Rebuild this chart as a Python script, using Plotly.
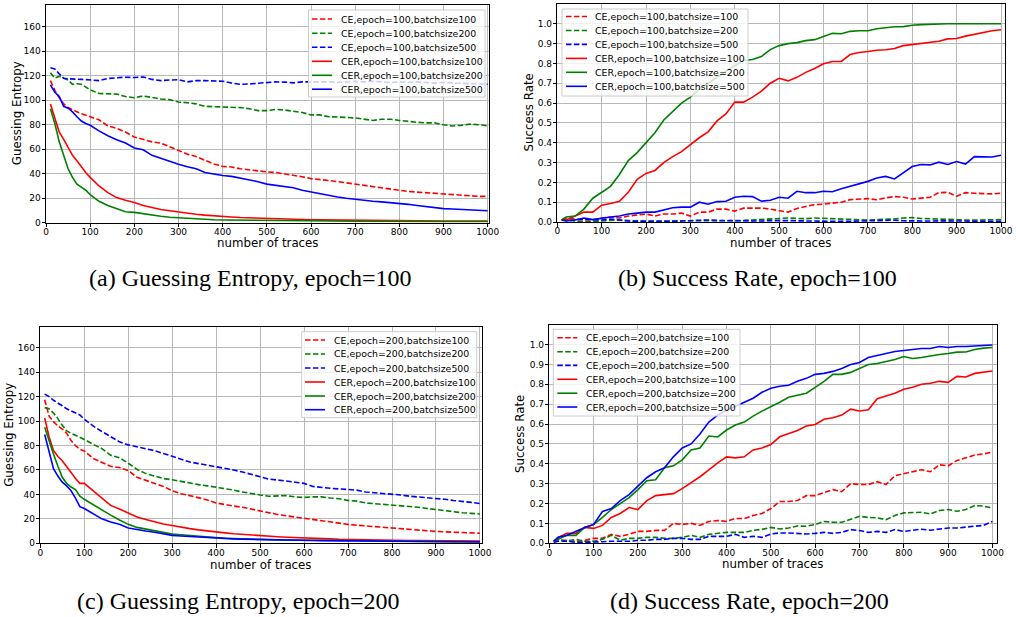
import plotly.graph_objects as go

# ---------------- data ----------------
GE_X = [10, 20, 30, 40, 50, 60, 70, 80, 90, 100] + list(range(120, 1001, 20))
SR_X = [10] + list(range(20, 1001, 20))

X_TICKS = list(range(0, 1001, 100))
GE_TICKS = list(range(0, 161, 20))
SR_TICKS = [i / 10 for i in range(0, 11)]
SR_TICKTEXT = ["%.1f" % v for v in SR_TICKS]

# (a) Guessing entropy, epoch=100
GE_A_CE100 = [116, 108, 102, 97, 94, 92, 90.5, 89, 88, 86.5,
              84, 79, 77, 74, 70, 68, 66, 65, 62, 59, 56, 54, 51, 48, 46, 45.5, 44, 43, 42.5, 41.5,
              41, 40, 38.5, 37.5, 36,
              35.5, 34.5, 33.5, 32.5, 31.5, 30.5, 29, 28.5, 27.5, 26.5, 25.5, 25, 24.5, 24, 23.5, 23, 22, 21.8, 21.5, 21.5]
GE_A_CE200 = [122.5, 118, 119.5, 118, 116.5, 113, 113.5, 113, 111, 108.5,
              105.5, 105, 105, 103, 102, 103.5, 102, 101, 100.5, 98.5, 98, 97, 95, 94.7, 95, 94.3, 94, 93, 91.5, 91.5,
              92.5, 92, 91, 90, 88,
              88, 86.5, 86.5, 86, 85.5, 84.5, 83.5, 84.5, 84.5, 83.5, 82.5, 82, 81.5, 81.5, 80, 79, 79.5, 80.5, 80, 79]
GE_A_CE500 = [126.5, 125.5, 121.5, 118, 117.5, 117.5, 117, 117, 116.8, 116.5,
              116, 117.8, 118.2, 118.8, 118.5, 119, 117, 116, 116.5, 116.8, 115, 116, 116, 115.5, 115.5, 114, 113, 113.3, 114, 114.5,
              115, 114.8, 114.2, 115, 115,
              115.5, 115, 114.5, 115, 115.5, 115, 115.5, 115, 114.5, 115, 114.5, 115, 114.5, 114, 114.5, 114, 114, 113.5, 113.5, 113]
GE_A_CER100 = [97, 86, 74, 68, 62, 55, 50.5, 45.5, 41, 37,
               30, 24.5, 20.5, 18.3, 16.5, 14, 12.2, 10.8, 9.8, 8.8, 7.5, 6.9, 6.2, 5.5, 5, 4.6, 4.2, 3.9, 3.6, 3.4,
               3.2, 3, 2.8, 2.6, 2.4,
               2.3, 2.2, 2.1, 2.0, 1.9, 1.85, 1.8, 1.75, 1.7, 1.65, 1.6, 1.55, 1.5, 1.45, 1.4, 1.4, 1.35, 1.3, 1.3, 1.25]
GE_A_CER200 = [93, 81, 66, 54, 44, 37, 31.5, 29, 26.5, 23,
               17.5, 14, 11.5, 9, 8.4, 7.2, 6.2, 5.2, 4.5, 4, 3.6, 3.2, 2.8, 2.4, 2.2, 2.1, 1.9, 1.8, 1.7, 1.6,
               1.5, 1.5, 1.4, 1.4, 1.3,
               1.3, 1.3, 1.2, 1.2, 1.2, 1.2, 1.1, 1.1, 1.1, 1.1, 1.1, 1.1, 1.0, 1.0, 1.0, 1.0, 1.0, 1.0, 1.0, 1.0]
GE_A_CER500 = [112.5, 106.5, 103, 95, 93.5, 90.5, 86.5, 83, 81, 79.5,
               75, 71, 67.8, 65, 61, 59.5, 55, 52.5, 50.5, 47.8, 45.7, 44, 41, 39.5, 38.5, 37.8, 36.5, 35, 33.5, 31.5,
               30.3, 29.5, 28.5, 26.5, 25,
               24, 22.5, 21, 20, 19, 18, 17.5, 17, 16.5, 16, 15, 14, 13, 12.5, 11.5, 11.2, 10.8, 10.5, 10, 9.7]

# (b) Success rate, epoch=100
SR_B_CE100 = [0.01, 0.02, 0.015, 0.01, 0.01, 0.02, 0.025, 0.02, 0.03, 0.035, 0.04,
              0.03, 0.04, 0.04, 0.045, 0.03, 0.05, 0.05, 0.065, 0.065, 0.055,
              0.07, 0.07, 0.07, 0.065, 0.058, 0.05, 0.068, 0.078, 0.088, 0.09,
              0.095, 0.1, 0.113, 0.115, 0.118, 0.112, 0.122, 0.128, 0.125, 0.116,
              0.122, 0.125, 0.148, 0.15, 0.13, 0.148, 0.145, 0.143, 0.142, 0.145]
SR_B_CE200 = [0.01, 0.01, 0.005, 0.0, 0.003, 0.005, 0.008, 0.01, 0.007, 0.005, 0.005,
              0.005, 0.004, 0.005, 0.006, 0.008, 0.007, 0.006, 0.005, 0.005, 0.006,
              0.008, 0.01, 0.012, 0.013, 0.015, 0.02, 0.018, 0.017, 0.02, 0.018,
              0.017, 0.014, 0.012, 0.01, 0.01, 0.012, 0.013, 0.015, 0.02, 0.022,
              0.018, 0.016, 0.013, 0.012, 0.01, 0.01, 0.01, 0.01, 0.013, 0.012]
SR_B_CE500 = [0.01, 0.008, 0.01, 0.015, 0.012, 0.01, 0.015, 0.01, 0.005, 0.004, 0.003,
              0.003, 0.004, 0.004, 0.005, 0.007, 0.01, 0.01, 0.008, 0.007, 0.005,
              0.004, 0.004, 0.005, 0.007, 0.008, 0.007, 0.006, 0.005, 0.004, 0.003,
              0.003, 0.003, 0.004, 0.005, 0.006, 0.008, 0.01, 0.009, 0.006, 0.005,
              0.004, 0.005, 0.006, 0.006, 0.005, 0.005, 0.004, 0.004, 0.003, 0.003]
SR_B_CER100 = [0.01, 0.01, 0.03, 0.05, 0.05, 0.085, 0.093, 0.105, 0.15, 0.215, 0.245,
               0.26, 0.30, 0.33, 0.355, 0.39, 0.425, 0.455, 0.51, 0.545, 0.605,
               0.605, 0.63, 0.66, 0.70, 0.725, 0.712, 0.73, 0.755, 0.775, 0.798,
               0.81, 0.81, 0.845, 0.855, 0.86, 0.867, 0.869, 0.875, 0.89, 0.895,
               0.902, 0.906, 0.912, 0.924, 0.926, 0.938, 0.948, 0.955, 0.965, 0.97]
SR_B_CER200 = [0.01, 0.025, 0.03, 0.065, 0.12, 0.15, 0.18, 0.24, 0.31, 0.35, 0.40,
               0.45, 0.515, 0.56, 0.60, 0.63, 0.67, 0.70, 0.73, 0.76, 0.79,
               0.815, 0.82, 0.835, 0.87, 0.89, 0.90, 0.905, 0.915, 0.92, 0.935,
               0.952, 0.95, 0.962, 0.965, 0.965, 0.975, 0.98, 0.985, 0.986, 0.993,
               0.996, 0.998, 1.0, 1.0, 1.0, 1.0, 1.0, 1.0, 1.0, 1.0]
SR_B_CER500 = [0.01, 0.005, 0.01, 0.02, 0.012, 0.02, 0.025, 0.03, 0.04, 0.045, 0.05,
               0.05, 0.06, 0.072, 0.075, 0.075, 0.1, 0.09, 0.103, 0.105, 0.125,
               0.13, 0.128, 0.105, 0.11, 0.125, 0.12, 0.155, 0.148, 0.148, 0.155,
               0.153, 0.168, 0.18, 0.195, 0.205, 0.222, 0.23, 0.217, 0.25, 0.28,
               0.29, 0.288, 0.302, 0.29, 0.305, 0.292, 0.33, 0.33, 0.328, 0.337]

# (c) Guessing entropy, epoch=200
GE_C_CE100 = [117.5, 104, 99.5, 96, 93.5, 90, 84, 80, 77, 75.5,
              69.5, 66, 63, 62, 59.5, 54, 51.5, 49.5, 46.5, 43, 40.5, 39, 37.5, 35.5, 33, 31.5, 30.5, 29.5, 28, 26,
              24.5, 23.5, 22.5, 21.5, 20.5,
              19, 18, 17, 16.2, 15.5, 14.8, 14.2, 13.6, 13, 12.2, 11.8, 11, 10.5, 10, 9.7, 9.4, 9, 8.7, 8.4, 8.2]
GE_C_CE200 = [111, 110, 106.5, 102, 96.5, 92, 90, 88.5, 86.5, 85,
              81, 77.5, 72, 70, 65.5, 60.5, 57, 55, 53, 52, 50.5, 49.5, 48, 47, 46, 45, 43.5, 42, 40.5, 39.5,
              38.5, 38.5, 39, 38, 37.5,
              38, 38, 37, 36.5, 35, 34.5, 33, 32.5, 32, 31.5, 31, 30, 29.5, 28.5, 27.5, 26.5, 25.5, 25, 24.5, 24]
GE_C_CE500 = [122, 120, 117, 115, 112.5, 110, 108.5, 107, 105, 101.5,
              96, 91.5, 87, 83, 80.5, 79, 77, 75.8, 73.5, 71, 68.5, 66.5, 65.2, 64, 62.5, 61, 60, 58.3, 56.7, 54.5,
              52.5, 52, 51, 50, 49,
              46.5, 45.5, 45, 44.5, 44, 43.5, 42, 41.5, 41, 40, 39.5, 38.5, 38, 37.5, 36.5, 36, 35, 34.5, 33.5, 32.5]
GE_C_CER100 = [102.5, 87, 76, 71, 67.5, 63, 58, 53, 49, 49,
               43, 37.5, 31, 28, 25, 21.5, 19.5, 17.5, 15.8, 14.5, 13, 12, 11, 10, 9, 8.5, 7.8, 7.2, 6.7, 6.2,
               5.8, 5.4, 5, 4.6, 4.3,
               4, 3.8, 3.6, 3.3, 3.1, 3, 2.9, 2.8, 2.6, 2.5, 2.4, 2.3, 2.2, 2.1, 2.0, 2.0, 1.9, 1.9, 1.8, 1.8]
GE_C_CER200 = [95, 83, 73, 63, 54, 49, 46, 44, 38.5, 36,
               31.5, 27, 23, 19, 15.5, 13, 11.5, 10, 8.5, 7.5, 7, 6.3, 5.7, 5, 4.4, 4.1, 3.8, 3.5, 3.3, 3,
               2.9, 2.8, 2.7, 2.6, 2.5,
               2.4, 2.3, 2.2, 2.1, 2.0, 2.0, 1.9, 1.9, 1.8, 1.8, 1.7, 1.7, 1.6, 1.6, 1.5, 1.5, 1.4, 1.4, 1.4, 1.3]
GE_C_CER500 = [89, 75, 61, 55, 50, 47, 43, 37, 30, 28.5,
               24, 20, 17.5, 15.5, 12.5, 11, 10, 9, 7.5, 6.5, 6, 5.5, 5, 4.5, 4, 3.8, 3.6, 3.4, 3.2, 3.0,
               2.8, 2.7, 2.6, 2.5, 2.4,
               2.3, 2.2, 2.1, 2.0, 1.9, 1.9, 1.8, 1.8, 1.7, 1.7, 1.6, 1.6, 1.5, 1.5, 1.4, 1.4, 1.3, 1.3, 1.3, 1.2]

# (d) Success rate, epoch=200
SR_D_CE100 = [0.005, 0.015, 0.015, 0.01, 0.015, 0.025, 0.025, 0.045, 0.035, 0.045, 0.06,
              0.06, 0.065, 0.065, 0.10, 0.095, 0.10, 0.09, 0.11, 0.115, 0.11,
              0.125, 0.125, 0.14, 0.15, 0.175, 0.21, 0.21, 0.215, 0.24, 0.24,
              0.255, 0.27, 0.26, 0.30, 0.296, 0.296, 0.31, 0.296, 0.34, 0.35,
              0.363, 0.37, 0.36, 0.395, 0.39, 0.417, 0.43, 0.444, 0.45, 0.459]
SR_D_CE200 = [0.01, 0.02, 0.01, 0.02, 0.01, 0.01, 0.02, 0.04, 0.015, 0.025, 0.025,
              0.03, 0.03, 0.025, 0.025, 0.03, 0.04, 0.03, 0.045, 0.05, 0.055,
              0.055, 0.055, 0.065, 0.07, 0.08, 0.072, 0.077, 0.087, 0.086, 0.094,
              0.11, 0.106, 0.106, 0.123, 0.136, 0.13, 0.128, 0.119, 0.14, 0.153,
              0.153, 0.156, 0.148, 0.165, 0.17, 0.161, 0.17, 0.19, 0.187, 0.178]
SR_D_CE500 = [0.005, 0.01, 0.01, 0.005, 0.005, 0.005, 0.008, 0.01, 0.01, 0.01, 0.015,
              0.015, 0.02, 0.02, 0.025, 0.025, 0.02, 0.02, 0.035, 0.035, 0.035,
              0.045, 0.03, 0.035, 0.03, 0.047, 0.052, 0.052, 0.05, 0.047, 0.05,
              0.055, 0.05, 0.055, 0.069, 0.064, 0.055, 0.06, 0.055, 0.069, 0.06,
              0.066, 0.071, 0.066, 0.072, 0.077, 0.077, 0.08, 0.086, 0.09, 0.11]
SR_D_CER100 = [0.01, 0.03, 0.05, 0.05, 0.08, 0.075, 0.09, 0.13, 0.15, 0.18, 0.17,
               0.215, 0.24, 0.245, 0.25, 0.275, 0.305, 0.335, 0.37, 0.405, 0.435,
               0.43, 0.435, 0.47, 0.48, 0.497, 0.536, 0.551, 0.568, 0.59, 0.598,
               0.624, 0.632, 0.645, 0.675, 0.666, 0.672, 0.728, 0.742, 0.755, 0.775,
               0.785, 0.80, 0.805, 0.815, 0.81, 0.84, 0.837, 0.855, 0.86, 0.867]
SR_D_CER200 = [0.01, 0.02, 0.04, 0.04, 0.08, 0.095, 0.13, 0.17, 0.20, 0.23, 0.27,
               0.315, 0.32, 0.38, 0.39, 0.42, 0.47, 0.48, 0.54, 0.535, 0.57,
               0.595, 0.61, 0.64, 0.665, 0.686, 0.71, 0.735, 0.745, 0.755, 0.785,
               0.815, 0.85, 0.85, 0.86, 0.88, 0.90, 0.905, 0.915, 0.925, 0.94,
               0.93, 0.935, 0.943, 0.95, 0.955, 0.962, 0.963, 0.975, 0.982, 0.985]
SR_D_CER500 = [0.01, 0.03, 0.04, 0.06, 0.08, 0.095, 0.16, 0.175, 0.215, 0.245, 0.29,
               0.33, 0.36, 0.38, 0.435, 0.48, 0.50, 0.55, 0.61, 0.645, 0.67,
               0.69, 0.71, 0.73, 0.76, 0.78, 0.79, 0.795, 0.815, 0.83, 0.85,
               0.855, 0.865, 0.88, 0.90, 0.91, 0.935, 0.945, 0.955, 0.965, 0.97,
               0.975, 0.98, 0.98, 0.99, 0.985, 0.99, 0.99, 0.992, 0.995, 0.998]

LEG_A = ["CE,epoch=100,batchsize100", "CE,epoch=100,batchsize200", "CE,epoch=100,batchsize500",
         "CER,epoch=100,batchsize100", "CER,epoch=100,batchsize200", "CER,epoch=100,batchsize500"]
LEG_B = ["CE,epoch=100,batchsize=100", "CE,epoch=100,batchsize=200", "CE,epoch=100,batchsize=500",
         "CER,epoch=100,batchsize=100", "CER,epoch=100,batchsize=200", "CER,epoch=100,batchsize=500"]
LEG_C = ["CE,epoch=200,batchsize100", "CE,epoch=200,batchsize200", "CE,epoch=200,batchsize500",
         "CER,epoch=200,batchsize100", "CER,epoch=200,batchsize200", "CER,epoch=200,batchsize500"]
LEG_D = ["CE,epoch=200,batchsize=100", "CE,epoch=200,batchsize=200", "CE,epoch=200,batchsize=500",
         "CER,epoch=200,batchsize=100", "CER,epoch=200,batchsize=200", "CER,epoch=200,batchsize=500"]

CAPTIONS = ["(a) Guessing Entropy, epoch=100", "(b) Success Rate, epoch=100",
            "(c) Guessing Entropy, epoch=200", "(d) Success Rate, epoch=200"]
X_TITLE = "number of traces"
Y_TITLES = ["Guessing Entropy", "Success Rate", "Guessing Entropy", "Success Rate"]

# ---------------- styling / layout ----------------
W, H = 1016, 617
COLORS = ["#ff0000", "#008000", "#0000ff", "#ff0000", "#008000", "#0000ff"]
DASH = "5.5px,2.4px"
DASHES = [DASH, DASH, DASH, "solid", "solid", "solid"]
LW = 1.6
TICKFONT = dict(family="DejaVu Sans", size=9, color="black")
GRID = "#b8b8b8"


def fx(p):
    return p / W


def fy(p):
    return 1 - p / H


panels = [
    dict(name="", x=GE_X, series=[GE_A_CE100, GE_A_CE200, GE_A_CE500, GE_A_CER100, GE_A_CER200, GE_A_CER500],
         l=46, r=489, t=4.7, b=222.7, xr=[0, 1003], yr=[0, 178], kind="ge", legend=LEG_A,
         box=(308.5, 10, 485, 97), samp=(312, 332), tx=339, rows=[19, 33.2, 47.3, 61.3, 75.3, 89.2],
         ytx=16.5, xty=243.5, cap=(250, 278)),
    dict(name="2", x=SR_X, series=[SR_B_CE100, SR_B_CE200, SR_B_CE500, SR_B_CER100, SR_B_CER200, SR_B_CER500],
         l=557.3, r=1005, t=4, b=222, xr=[0, 1009], yr=[0, 1.1], kind="sr", legend=LEG_B,
         box=(562, 9, 748, 96), samp=(566, 587), tx=593, rows=[16.5, 30.5, 44.4, 58.4, 72.3, 86.3],
         ytx=528.5, xty=243.5, cap=(757, 278)),
    dict(name="3", x=GE_X, series=[GE_C_CE100, GE_C_CE200, GE_C_CE500, GE_C_CER100, GE_C_CER200, GE_C_CER500],
         l=40.3, r=481.7, t=327.3, b=543.3, xr=[0, 1004], yr=[0, 176.7], kind="ge", legend=LEG_C,
         box=(301.7, 331.7, 476.7, 417.7), samp=(305, 325), tx=331.7, rows=[340, 354, 368, 382, 396, 409.7],
         ytx=9.5, xty=564.5, cap=(238, 601)),
    dict(name="4", x=SR_X, series=[SR_D_CE100, SR_D_CE200, SR_D_CE500, SR_D_CER100, SR_D_CER200, SR_D_CER500],
         l=549.3, r=997.3, t=324.7, b=543.3, xr=[0, 1011], yr=[0, 1.1], kind="sr", legend=LEG_D,
         box=(553.3, 329.3, 740, 416), samp=(557.3, 577.3), tx=584, rows=[337.7, 351.7, 365.4, 379.3, 393.2, 407],
         ytx=520, xty=564, cap=(749, 601)),
]

fig = go.Figure()
layout = dict(width=W, height=H, margin=dict(l=0, r=0, t=0, b=0, autoexpand=False),
              plot_bgcolor="white", paper_bgcolor="white", showlegend=False)
shapes = []
annotations = []

for i, p in enumerate(panels):
    xa = "x" + p["name"]
    ya = "y" + p["name"]
    for s, col, d in zip(p["series"], COLORS, DASHES):
        fig.add_trace(go.Scatter(x=p["x"], y=s, mode="lines", xaxis=xa, yaxis=ya,
                                 line=dict(color=col, width=LW, dash=d), hoverinfo="skip"))
    common = dict(ticks="outside", ticklen=3.5, tickwidth=1, tickcolor="black",
                  showline=True, linecolor="black", linewidth=1, mirror=True,
                  showgrid=True, gridcolor=GRID, gridwidth=1, zeroline=False,
                  tickfont=TICKFONT, automargin=False)
    layout["xaxis" + p["name"]] = dict(domain=[fx(p["l"]), fx(p["r"])], range=p["xr"], anchor=ya,
                                       tickmode="array", tickvals=X_TICKS, ticklabelstandoff=-3, **common)
    if p["kind"] == "ge":
        yt = dict(tickmode="array", tickvals=GE_TICKS)
    else:
        yt = dict(tickmode="array", tickvals=SR_TICKS, ticktext=SR_TICKTEXT)
    layout["yaxis" + p["name"]] = dict(domain=[fy(p["b"]), fy(p["t"])], range=p["yr"], anchor=xa,
                                       ticklabelstandoff=-1, **yt, **common)

    # axis titles
    annotations.append(dict(x=fx((p["l"] + p["r"]) / 2), y=fy(p["xty"]), xref="paper", yref="paper",
                            text=X_TITLE, showarrow=False, xanchor="center", yanchor="middle",
                            font=dict(family="DejaVu Sans", size=11.8, color="black")))
    annotations.append(dict(x=fx(p["ytx"]), y=fy((p["t"] + p["b"]) / 2), xref="paper", yref="paper",
                            text=Y_TITLES[i], showarrow=False, textangle=-90, xanchor="center", yanchor="middle",
                            font=dict(family="DejaVu Sans", size=11.8, color="black")))
    # caption
    annotations.append(dict(x=fx(p["cap"][0]), y=fy(p["cap"][1]), xref="paper", yref="paper",
                            text=CAPTIONS[i], showarrow=False, xanchor="center", yanchor="middle",
                            font=dict(family="Liberation Serif", size=24, color="black")))

    # legend box
    bx0, by0, bx1, by1 = p["box"]
    shapes.append(dict(type="rect", xref="paper", yref="paper", x0=fx(bx0), x1=fx(bx1), y0=fy(by1), y1=fy(by0),
                       line=dict(color="#cccccc", width=1), fillcolor="rgba(255,255,255,0.8)", layer="above"))
    for lab, col, d, ry in zip(p["legend"], COLORS, DASHES, p["rows"]):
        shapes.append(dict(type="line", xref="paper", yref="paper", x0=fx(p["samp"][0]), x1=fx(p["samp"][1]),
                           y0=fy(ry), y1=fy(ry), line=dict(color=col, width=LW, dash=d), layer="above"))
        annotations.append(dict(x=fx(p["tx"]), y=fy(ry), xref="paper", yref="paper", text=lab,
                                showarrow=False, xanchor="left", yanchor="middle",
                                font=dict(family="DejaVu Sans", size=9.4, color="black")))

layout["shapes"] = shapes
layout["annotations"] = annotations
fig.update_layout(**layout)
fig.write_html("out.html")
